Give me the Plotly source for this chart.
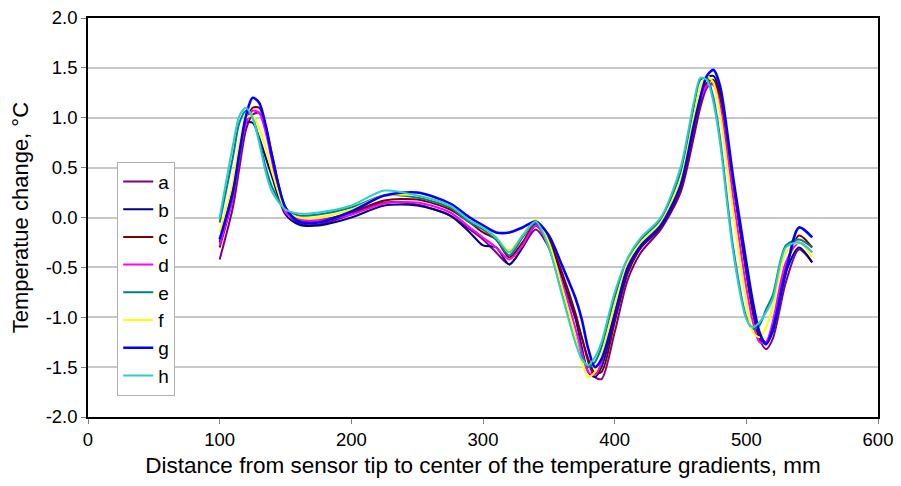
import plotly.graph_objects as go

x_mm = [100, 110, 115, 120, 125, 130, 135, 140, 150, 160, 175, 200, 225, 250, 275, 290, 300,
        310, 320, 330, 340, 350, 360, 370, 375, 380, 385, 390, 400, 410, 420, 435, 450, 460,
        465, 470, 475, 480, 490, 500, 505, 510, 515, 520, 530, 540, 550]

a = [-0.42, 0.10, 0.50, 0.88, 1.03, 1.05, 0.88, 0.58, 0.08, -0.06, -0.07, 0.03, 0.15, 0.13, 0.02, -0.12, -0.22,
     -0.35, -0.47, -0.30, -0.12, -0.30, -0.65, -1.00, -1.20, -1.45, -1.60, -1.62, -1.15, -0.62, -0.35, -0.12, 0.25, 0.80,
     1.10, 1.30, 1.35, 1.20, 0.35, -0.55, -0.95, -1.22, -1.32, -1.22, -0.65, -0.32, -0.45]
b = [-0.25, 0.30, 0.70, 0.95, 0.95, 0.80, 0.60, 0.40, 0.03, -0.07, -0.08, 0.00, 0.12, 0.12, 0.02, -0.15, -0.28,
     -0.30, -0.47, -0.30, -0.08, -0.25, -0.60, -1.00, -1.30, -1.55, -1.60, -1.50, -1.02, -0.55, -0.30, -0.10, 0.30, 0.90,
     1.20, 1.40, 1.42, 1.25, 0.35, -0.55, -0.95, -1.20, -1.27, -1.15, -0.55, -0.30, -0.45]
c = [-0.30, 0.20, 0.60, 0.95, 1.10, 1.10, 0.92, 0.62, 0.10, -0.02, -0.03, 0.05, 0.17, 0.18, 0.08, -0.05, -0.15,
     -0.22, -0.40, -0.25, -0.06, -0.22, -0.55, -0.95, -1.20, -1.42, -1.56, -1.55, -1.05, -0.55, -0.30, -0.10, 0.28, 0.85,
     1.15, 1.35, 1.38, 1.22, 0.35, -0.50, -0.90, -1.18, -1.25, -1.10, -0.50, -0.18, -0.30]
d = [-0.28, 0.20, 0.60, 0.95, 1.07, 1.05, 0.85, 0.55, 0.05, -0.02, -0.03, 0.03, 0.14, 0.15, 0.05, -0.10, -0.20,
     -0.30, -0.42, -0.28, -0.08, -0.28, -0.65, -1.10, -1.35, -1.55, -1.58, -1.45, -0.95, -0.50, -0.28, -0.08, 0.32, 0.90,
     1.18, 1.32, 1.33, 1.12, 0.20, -0.70, -1.05, -1.25, -1.25, -1.05, -0.45, -0.25, -0.35]
e = [-0.05, 0.60, 0.95, 1.07, 1.00, 0.78, 0.50, 0.30, 0.08, 0.02, 0.03, 0.10, 0.22, 0.20, 0.10, -0.05, -0.12,
     -0.22, -0.38, -0.20, -0.05, -0.30, -0.75, -1.20, -1.40, -1.50, -1.45, -1.30, -0.80, -0.42, -0.22, -0.02, 0.45, 1.10,
     1.38, 1.40, 1.20, 0.80, -0.30, -1.00, -1.12, -1.08, -0.92, -0.78, -0.28, -0.22, -0.30]
f = [-0.15, 0.35, 0.75, 1.00, 1.02, 0.90, 0.70, 0.45, 0.08, 0.00, 0.00, 0.08, 0.22, 0.22, 0.12, -0.02, -0.10,
     -0.20, -0.33, -0.18, -0.02, -0.25, -0.70, -1.20, -1.45, -1.60, -1.55, -1.38, -0.88, -0.45, -0.25, -0.05, 0.38, 1.00,
     1.30, 1.42, 1.35, 1.05, 0.05, -0.85, -1.15, -1.20, -1.10, -0.90, -0.35, -0.25, -0.40]
g = [-0.22, 0.25, 0.65, 1.02, 1.20, 1.15, 0.92, 0.60, 0.10, -0.04, -0.05, 0.06, 0.22, 0.25, 0.14, 0.00, -0.08,
     -0.15, -0.15, -0.10, -0.04, -0.18, -0.48, -0.80, -1.02, -1.32, -1.50, -1.42, -0.98, -0.50, -0.28, -0.08, 0.32, 0.92,
     1.20, 1.42, 1.48, 1.32, 0.40, -0.45, -0.85, -1.15, -1.27, -1.12, -0.55, -0.10, -0.20]
h = [0.00, 0.72, 1.02, 1.10, 1.00, 0.75, 0.45, 0.25, 0.08, 0.04, 0.05, 0.12, 0.27, 0.22, 0.12, -0.03, -0.10,
     -0.20, -0.35, -0.18, -0.04, -0.30, -0.78, -1.25, -1.42, -1.48, -1.40, -1.25, -0.75, -0.40, -0.20, 0.00, 0.50, 1.15,
     1.40, 1.38, 1.15, 0.75, -0.35, -1.02, -1.10, -1.05, -0.95, -0.82, -0.30, -0.25, -0.35]

series_names = ["a", "b", "c", "d", "e", "f", "g", "h"]
series_values = [a, b, c, d, e, f, g, h]
series_colors = ["#800080", "#000080", "#800000", "#FF00FF", "#008080", "#FFFF00", "#0000FF", "#33CCCC"]
series_widths = [2, 2, 2, 2, 2, 2, 2.6, 2]

y_ticks = [-2.0, -1.5, -1.0, -0.5, 0.0, 0.5, 1.0, 1.5, 2.0]
x_ticks = [0, 100, 200, 300, 400, 500, 600]

fig = go.Figure()
for name, vals, col, w in zip(series_names, series_values, series_colors, series_widths):
    fig.add_trace(go.Scatter(x=x_mm, y=vals, name=name, mode="lines",
                             line=dict(color=col, width=w, shape="spline", smoothing=0.8)))

font_family = "Liberation Sans, Arial, sans-serif"
fig.update_layout(
    width=893, height=478,
    margin=dict(l=80, r=23, t=10, b=69),
    paper_bgcolor="white", plot_bgcolor="white",
    font=dict(family=font_family, color="black", size=18),
    legend=dict(x=0.037, y=0.64, xanchor="left", yanchor="top",
                bgcolor="white", bordercolor="#B0B0B0", borderwidth=1,
                font=dict(size=19, family=font_family), tracegroupgap=0, itemwidth=30),
    showlegend=True,
    annotations=[dict(text="Temperatue change, °C", xref="paper", yref="paper",
                      x=-0.085, y=0.5, xanchor="center", yanchor="middle", textangle=-90,
                      showarrow=False, font=dict(size=22, family=font_family, color="black"))],
)
fig.update_xaxes(range=[0, 600], tickvals=x_ticks, ticktext=[str(v) for v in x_ticks],
                 showgrid=False, zeroline=False, showline=True, linecolor="black", linewidth=1.5,
                 mirror=True, ticks="outside", ticklen=5, tickcolor="#808080", automargin=False,
                 tickfont=dict(size=18.5), ticklabeloverflow="allow",
                 title=dict(text="Distance from sensor tip to center of the temperature gradients, mm",
                            font=dict(size=22.5), standoff=8))
fig.update_yaxes(range=[-2, 2], tickvals=y_ticks, ticktext=[f"{v:.1f}" for v in y_ticks],
                 showgrid=True, gridcolor="#C8C8C8", gridwidth=1.5, zeroline=False,
                 showline=True, linecolor="black", linewidth=1.5, mirror=True,
                 ticks="outside", ticklen=5, tickcolor="#808080", automargin=False,
                 tickfont=dict(size=18.5), ticklabeloverflow="allow")

fig.write_html("out.html")
